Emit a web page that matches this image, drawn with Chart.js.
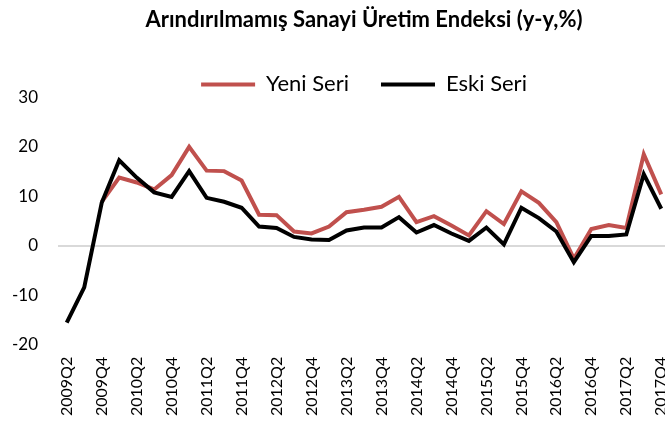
<!DOCTYPE html>
<html>
<head>
<meta charset="utf-8">
<script src="https://cdn.jsdelivr.net/npm/chart.js@4.4.1/dist/chart.umd.min.js"></script>
<style>
  html, body { margin: 0; padding: 0; background: #fff; overflow: hidden; }
  #wrap { width: 672px; height: 428px; }
</style>
</head>
<body>
<div id="wrap"><canvas id="chart"></canvas></div>
<script>
// Quarters, 2009Q2 .. 2017Q4
const quarters = [
  '2009Q2', '2009Q3', '2009Q4',
  '2010Q1', '2010Q2', '2010Q3', '2010Q4',
  '2011Q1', '2011Q2', '2011Q3', '2011Q4',
  '2012Q1', '2012Q2', '2012Q3', '2012Q4',
  '2013Q1', '2013Q2', '2013Q3', '2013Q4',
  '2014Q1', '2014Q2', '2014Q3', '2014Q4',
  '2015Q1', '2015Q2', '2015Q3', '2015Q4',
  '2016Q1', '2016Q2', '2016Q3', '2016Q4',
  '2017Q1', '2017Q2', '2017Q3', '2017Q4'
];

// Yeni Seri (starts 2009Q4)
const yeniSeri = [
  null, null, 8.9,
  13.8, 12.8, 11.4, 14.3,
  20.0, 15.2, 15.1, 13.2,
  6.3, 6.2, 2.9, 2.5,
  3.9, 6.8, 7.3, 7.9,
  9.9, 4.8, 6.0, 4.1,
  2.1, 7.0, 4.4, 11.0,
  8.7, 4.8, -2.6, 3.4,
  4.2, 3.6, 18.5, 10.4
];

// Eski Seri
const eskiSeri = [
  -15.5, -8.4, 8.7,
  17.3, 13.8, 10.8, 9.9,
  15.1, 9.7, 8.9, 7.7,
  3.9, 3.6, 1.8, 1.3,
  1.2, 3.1, 3.7, 3.7,
  5.8, 2.7, 4.2, 2.5,
  1.0, 3.7, 0.3, 7.7,
  5.6, 2.9, -3.3, 2.0,
  2.0, 2.3, 14.5, 7.5
];

const yTicks = [-20, -10, 0, 10, 20, 30];

Chart.defaults.font.family = "Lato, 'Open Sans', sans-serif";
Chart.defaults.color = '#000';

const ctx = document.getElementById('chart').getContext('2d');
new Chart(ctx, {
  type: 'line',
  data: {
    labels: quarters,
    datasets: [{
      label: 'Yeni Seri',
      data: yeniSeri,
      borderColor: '#C0504D',
      backgroundColor: '#C0504D',
      borderWidth: 4,
      pointRadius: 0,
      tension: 0,
      order: 1
    }, {
      label: 'Eski Seri',
      data: eskiSeri,
      borderColor: '#000000',
      backgroundColor: '#000000',
      borderWidth: 4,
      pointRadius: 0,
      tension: 0,
      order: 0 // black drawn on top
    }]
  },
  options: {
    responsive: true,
    maintainAspectRatio: false,
    animation: false,
    layout: {
      padding: { left: 10, right: 2, top: 0, bottom: 0 }
    },
    plugins: {
      title: {
        display: true,
        text: 'Arındırılmamış Sanayi Üretim Endeksi (y-y,%)',
        fullSize: false,
        color: '#000',
        font: { size: 22, weight: 'bold' },
        padding: { top: 7, bottom: 8 }
      },
      legend: {
        position: 'top',
        fullSize: false,
        maxHeight: 56,
        labels: {
          usePointStyle: true,
          pointStyle: 'line',
          pointStyleWidth: 54,
          padding: 32,
          color: '#000',
          font: { size: 22 },
          sort: (a, b) => a.datasetIndex - b.datasetIndex
        }
      },
      tooltip: { enabled: false }
    },
    scales: {
      x: {
        offset: true,
        grid: { display: false, drawTicks: false },
        border: { display: false },
        ticks: {
          autoSkip: false,
          maxRotation: 90,
          minRotation: 90,
          padding: 12,
          font: { size: 16 },
          callback: (val, i) => (i % 2 === 0 ? quarters[i] : '')
        },
        afterFit: (axis) => {
          // rotated labels don't need side room
          axis.paddingLeft = 0;
          axis.paddingRight = 0;
        }
      },
      y: {
        min: -20,
        max: 30,
        afterBuildTicks: (axis) => {
          axis.ticks = yTicks.map(v => ({ value: v }));
        },
        afterFit: (axis) => {
          axis.width = 48;
        },
        grid: {
          drawTicks: false,
          lineWidth: 2,
          color: (c) => (c.tick && c.tick.value === 0 ? '#D9D9D9' : 'rgba(0,0,0,0)')
        },
        border: { display: false },
        ticks: {
          padding: 20,
          font: { size: 17 }
        }
      }
    }
  }
});
</script>
</body>
</html>
